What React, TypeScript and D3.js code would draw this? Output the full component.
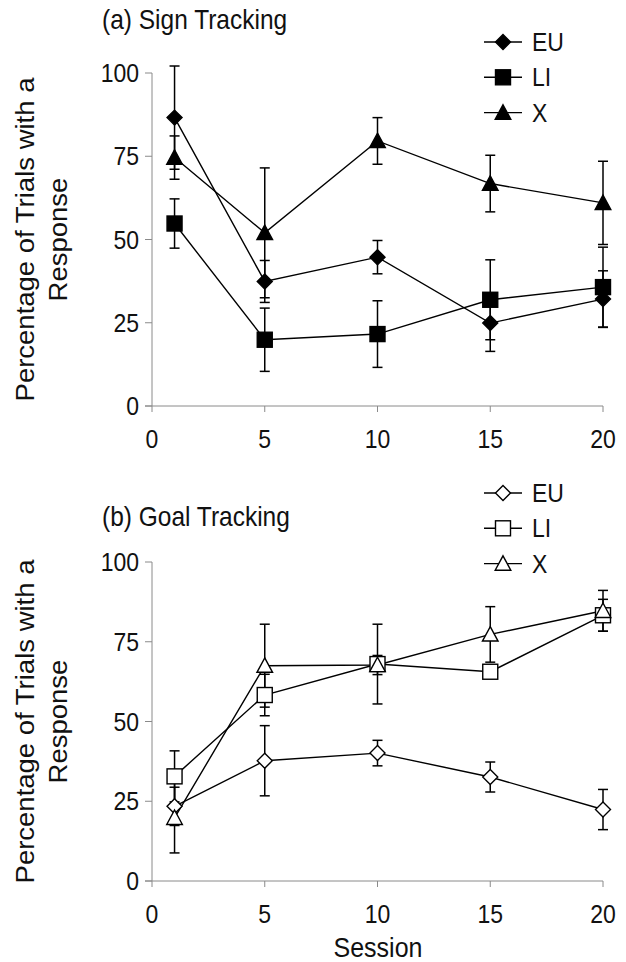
import React from "react";
import * as d3 from "d3";

const sessions = [1, 5, 10, 15, 20];
const xTicks = [0, 5, 10, 15, 20];
const yTicks = [0, 25, 50, 75, 100];
const groups = ["EU", "LI", "X"];

// (a) sign tracking
const signEU = [86.6, 37.4, 44.7, 24.9, 32.1];
const signEUErr = [15.5, 6.3, 5, 8.5, 8.5];
const signLI = [54.8, 19.9, 21.6, 31.9, 35.7];
const signLIErr = [7.4, 9.5, 10, 12, 12];
const signX = [74.6, 52, 79.6, 66.8, 61];
const signXErr = [6.5, 19.5, 7, 8.5, 12.5];

// (b) goal tracking
const goalEU = [23.4, 37.7, 40.1, 32.6, 22.4];
const goalEUErr = [6, 11, 4, 4.7, 6.3];
const goalLI = [32.8, 58.3, 68, 65.6, 83.3];
const goalLIErr = [8, 6.5, 12.5, 2, 5];
const goalX = [19.8, 67.5, 67.7, 77.3, 84.7];
const goalXErr = [11, 13, 3, 8.7, 6.4];

const font = "'Liberation Sans', Arial, sans-serif";
const stretch = 1.1; // text in the figure is slightly taller than wide

const T = ({ x, y, size, anchor = "start", children }) => (
  <text
    transform={`translate(${x},${y}) scale(1,${stretch})`}
    textAnchor={anchor}
    fontFamily={font}
    fontSize={size}
    fill="#111"
  >
    {children}
  </text>
);

const Marker = ({ shape, x, y, filled }) => {
  const fill = filled ? "#000" : "#fff";
  if (shape === "EU") {
    const s = 7.5;
    return <path d={`M${x},${y - s}L${x + s},${y}L${x},${y + s}L${x - s},${y}Z`} fill={fill} stroke="#000" strokeWidth={1.4} />;
  }
  if (shape === "LI") {
    const s = 7.5;
    return <rect x={x - s} y={y - s} width={2 * s} height={2 * s} fill={fill} stroke="#000" strokeWidth={1.4} />;
  }
  const s = 7.8;
  return <path d={`M${x},${y - s}L${x + s},${y + s * 0.85}L${x - s},${y + s * 0.85}Z`} fill={fill} stroke="#000" strokeWidth={1.4} />;
};

const Panel = ({ title, titleY, y0, y100, series, filled, legendY }) => {
  const x = d3.scaleLinear().domain([0, 20]).range([152, 603]);
  const y = d3.scaleLinear().domain([0, 100]).range([y0, y100]);
  const line = d3
    .line()
    .x((d) => x(d[0]))
    .y((d) => y(d[1]));
  const axisColor = "#8a8a8a";
  const mid = (y0 + y100) / 2;
  return (
    <g>
      <T x={102} y={titleY} size={24.5}>
        {title}
      </T>
      {/* axes */}
      <line x1={x(0)} x2={x(0)} y1={y(0)} y2={y(100)} stroke={axisColor} />
      <line x1={x(0) - 7} x2={x(20)} y1={y(0)} y2={y(0)} stroke={axisColor} />
      {yTicks.map((t) => (
        <g key={t}>
          <line x1={x(0) - 7} x2={x(0)} y1={y(t)} y2={y(t)} stroke={axisColor} />
          <T x={x(0) - 13} y={y(t) + 9} size={23} anchor="end">
            {t}
          </T>
        </g>
      ))}
      {xTicks.map((t) => (
        <g key={t}>
          <line x1={x(t)} x2={x(t)} y1={y(0)} y2={y(0) + 6} stroke={axisColor} />
          <T x={x(t)} y={y(0) + 42} size={23} anchor="middle">
            {t}
          </T>
        </g>
      ))}
      <text transform={`translate(34,${mid}) rotate(-90) scale(${stretch},1)`} textAnchor="middle" fontFamily={font} fontSize={25} fill="#111">
        Percentage of Trials with a
      </text>
      <text transform={`translate(67,${mid}) rotate(-90) scale(${stretch},1)`} textAnchor="middle" fontFamily={font} fontSize={25} fill="#111">
        Response
      </text>
      {/* lines */}
      {series.map((s) => (
        <path key={s.name} d={line(sessions.map((d, i) => [d, s.values[i]]))} fill="none" stroke="#000" strokeWidth={1.4} />
      ))}
      {/* error bars */}
      {series.map((s) =>
        sessions.map((d, i) => {
          const cx = x(d);
          const lo = y(s.values[i] - s.err[i]);
          const hi = y(s.values[i] + s.err[i]);
          return (
            <g key={s.name + i} stroke="#000" strokeWidth={1.5}>
              <line x1={cx} x2={cx} y1={lo} y2={hi} />
              <line x1={cx - 5} x2={cx + 5} y1={lo} y2={lo} />
              <line x1={cx - 5} x2={cx + 5} y1={hi} y2={hi} />
            </g>
          );
        })
      )}
      {series.map((s) =>
        sessions.map((d, i) => <Marker key={s.name + "m" + i} shape={s.name} x={x(d)} y={y(s.values[i])} filled={filled} />)
      )}
      {/* legend */}
      {groups.map((g, i) => {
        const ly = legendY + i * 35.3;
        return (
          <g key={g}>
            <line x1={484} x2={522} y1={ly} y2={ly} stroke="#000" strokeWidth={1.4} />
            <Marker shape={g} x={503} y={ly} filled={filled} />
            <T x={532} y={ly + 9} size={23}>
              {g}
            </T>
          </g>
        );
      })}
    </g>
  );
};

export default function App() {
  const signSeries = [
    { name: "EU", values: signEU, err: signEUErr },
    { name: "LI", values: signLI, err: signLIErr },
    { name: "X", values: signX, err: signXErr },
  ];
  const goalSeries = [
    { name: "EU", values: goalEU, err: goalEUErr },
    { name: "LI", values: goalLI, err: goalLIErr },
    { name: "X", values: goalX, err: goalXErr },
  ];
  return (
    <svg width={626} height={962} style={{ position: "absolute", left: 0, top: 0, background: "#fff" }}>
      <rect width={626} height={962} fill="#fff" />
      <Panel title="(a) Sign Tracking" titleY={29} y0={406} y100={73} series={signSeries} filled={true} legendY={42} />
      <Panel title="(b) Goal Tracking" titleY={526} y0={881} y100={562} series={goalSeries} filled={false} legendY={493} />
      <T x={378} y={957} size={25} anchor="middle">
        Session
      </T>
    </svg>
  );
}
